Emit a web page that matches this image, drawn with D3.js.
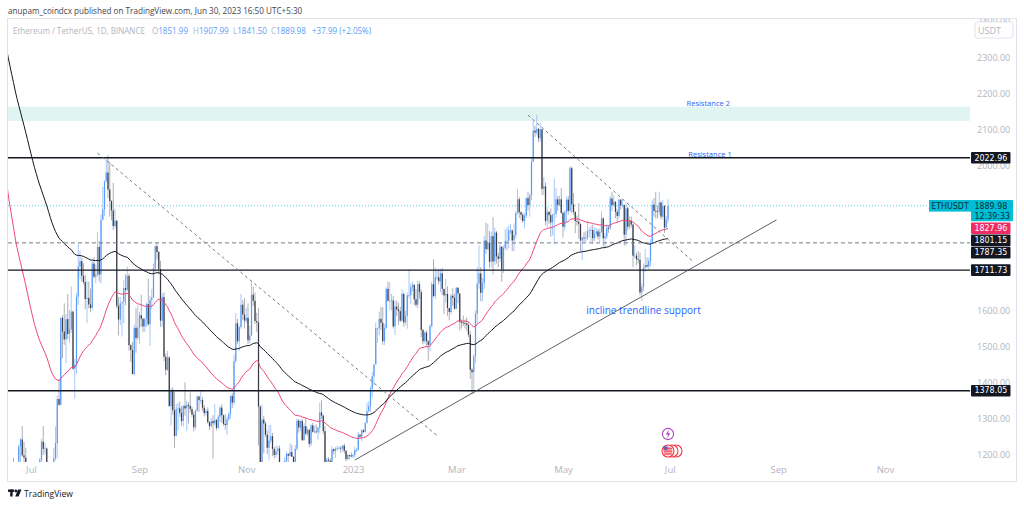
<!DOCTYPE html>
<html>
<head>
<meta charset="utf-8">
<script src="https://cdn.jsdelivr.net/npm/d3@7"></script>
<style>
  body { margin: 0; background: #fff; }
  svg { display: block; font-family: "Open Sans", "DejaVu Sans", sans-serif; }
</style>
</head>
<body>
<svg id="chart" width="1024" height="506"></svg>
<script>
// ETHUSDT daily candles [open, high, low, close], one array per month
const firstDay = "2022-06-17";
const jun22 = [
  [1068,1110,1038,1086],[1086,1089,881,995],[995,1151,962,1128],[1128,1161,1072,1128],[1128,1193,1102,1124],
  [1124,1135,1042,1052],[1052,1150,1048,1144],[1144,1230,1125,1224],[1224,1247,1180,1243],[1243,1280,1195,1199],
  [1199,1236,1181,1193],[1193,1220,1138,1144],[1144,1146,1071,1098],[1098,1104,998,1067]
];
const jul22 = [
  [1067,1101,1033,1059],[1059,1076,1034,1067],[1067,1080,1038,1074],[1074,1152,1051,1150],[1150,1163,1077,1134],
  [1134,1192,1116,1187],[1187,1245,1172,1237],[1237,1280,1201,1217],[1217,1234,1201,1218],[1218,1221,1158,1168],
  [1168,1168,1086,1097],[1097,1102,1036,1038],[1038,1113,1006,1113],[1113,1219,1078,1191],[1191,1279,1185,1233],
  [1233,1365,1191,1355],[1355,1410,1336,1339],[1339,1580,1338,1580],[1580,1587,1468,1542],[1542,1620,1505,1520],
  [1520,1590,1454,1576],[1576,1645,1520,1535],[1535,1602,1511,1548],[1548,1667,1538,1597],[1597,1600,1435,1439],
  [1439,1467,1356,1450],[1450,1648,1425,1638],[1638,1785,1615,1722],[1722,1766,1687,1737],[1737,1746,1680,1696],
  [1696,1731,1672,1679]
];
const aug22 = [
  [1679,1698,1604,1632],[1632,1681,1565,1635],[1635,1680,1606,1617],[1617,1661,1595,1607],[1607,1740,1602,1730],
  [1730,1748,1689,1694],[1694,1727,1675,1699],[1699,1817,1694,1776],[1776,1792,1680,1700],[1700,1866,1675,1851],
  [1851,1942,1850,1880],[1880,1960,1862,1958],[1958,2020,1955,1982],[1982,2030,1912,1935],[1935,2012,1860,1903],
  [1903,1906,1850,1877],[1877,1953,1823,1834],[1834,1882,1827,1849],[1849,1849,1606,1613],[1613,1637,1531,1575],
  [1575,1638,1560,1620],[1620,1623,1528,1624],[1624,1684,1565,1662],[1662,1700,1615,1657],[1657,1722,1653,1696],
  [1696,1702,1489,1504],[1504,1507,1458,1491],[1491,1513,1424,1424],[1424,1561,1420,1552],[1552,1606,1483,1524],
  [1524,1615,1518,1553]
];
const sep22 = [
  [1553,1596,1508,1587],[1587,1644,1554,1577],[1577,1580,1540,1556],[1556,1579,1541,1577],[1577,1622,1555,1618],
  [1618,1688,1557,1562],[1562,1640,1502,1629],[1629,1660,1604,1636],[1636,1730,1635,1717],[1717,1780,1706,1778],
  [1778,1789,1741,1762],[1762,1765,1700,1715],[1715,1738,1555,1572],[1572,1648,1556,1637],[1637,1650,1460,1472],
  [1472,1481,1421,1436],[1436,1488,1433,1470],[1470,1473,1335,1335],[1335,1385,1281,1377],[1377,1387,1311,1324],
  [1324,1375,1220,1253],[1253,1341,1252,1327],[1327,1345,1268,1329],[1329,1348,1306,1317],[1317,1335,1281,1294],
  [1294,1339,1278,1336],[1336,1401,1309,1329],[1329,1350,1266,1339],[1339,1346,1287,1336],[1336,1373,1318,1327]
];
const oct22 = [
  [1327,1333,1305,1312],[1312,1320,1265,1277],[1277,1326,1271,1323],[1323,1365,1320,1362],[1362,1364,1320,1352],
  [1352,1380,1343,1352],[1352,1360,1322,1331],[1331,1338,1307,1316],[1316,1327,1309,1322],[1322,1332,1287,1291],
  [1291,1294,1269,1280],[1280,1302,1276,1294],[1294,1310,1190,1288],[1288,1341,1282,1297],[1297,1300,1268,1275],
  [1275,1312,1271,1306],[1306,1335,1291,1331],[1331,1341,1290,1310],[1310,1312,1281,1286],[1286,1313,1270,1283],
  [1283,1306,1255,1299],[1299,1318,1294,1314],[1314,1366,1301,1363],[1363,1371,1330,1345],[1345,1477,1338,1460],
  [1460,1593,1456,1565],[1565,1577,1508,1515],[1515,1558,1488,1554],[1554,1646,1550,1616],[1616,1629,1574,1589],
  [1589,1635,1550,1572]
];
const nov22 = [
  [1572,1608,1565,1580],[1580,1620,1507,1518],[1518,1558,1510,1531],[1531,1681,1530,1644],[1644,1666,1613,1627],
  [1627,1650,1563,1571],[1571,1594,1541,1567],[1567,1608,1226,1334],[1334,1337,1072,1100],[1100,1340,1097,1298],
  [1298,1308,1205,1287],[1287,1292,1250,1256],[1256,1268,1202,1220],[1220,1283,1186,1240],[1240,1283,1233,1252],
  [1252,1261,1197,1217],[1217,1222,1191,1200],[1200,1227,1193,1211],[1211,1225,1201,1218],[1218,1226,1138,1141],
  [1141,1143,1074,1107],[1107,1137,1085,1134],[1134,1194,1130,1184],[1184,1210,1179,1203],[1203,1204,1174,1198],
  [1198,1232,1197,1208],[1208,1228,1195,1195],[1195,1197,1150,1168],[1168,1228,1162,1217],[1217,1301,1212,1295]
];
const dec22 = [
  [1295,1299,1262,1276],[1276,1297,1267,1294],[1294,1300,1239,1241],[1241,1288,1240,1280],[1280,1303,1255,1259],
  [1259,1276,1252,1270],[1270,1271,1221,1231],[1231,1285,1225,1282],[1282,1289,1262,1264],[1264,1281,1262,1265],
  [1265,1285,1260,1264],[1264,1278,1242,1276],[1276,1345,1260,1318],[1318,1352,1300,1309],[1309,1312,1258,1266],
  [1266,1280,1157,1166],[1166,1192,1162,1187],[1187,1194,1177,1184],[1184,1191,1150,1166],[1166,1225,1160,1216],
  [1216,1218,1202,1211],[1211,1222,1192,1218],[1218,1225,1212,1219],[1219,1224,1215,1220],[1220,1224,1206,1218],
  [1218,1227,1210,1226],[1226,1231,1204,1212],[1212,1213,1183,1189],[1189,1204,1185,1200],[1200,1201,1188,1199],
  [1199,1208,1193,1196]
];
const jan23 = [
  [1196,1204,1192,1200],[1200,1223,1192,1214],[1214,1219,1207,1214],[1214,1264,1212,1256],[1256,1259,1245,1251],
  [1251,1272,1238,1269],[1269,1271,1261,1264],[1264,1290,1262,1289],[1289,1345,1287,1321],[1321,1349,1318,1336],
  [1336,1390,1320,1384],[1384,1429,1360,1418],[1418,1450,1393,1451],[1451,1566,1450,1551],[1551,1553,1511,1551],
  [1551,1597,1531,1577],[1577,1610,1545,1566],[1566,1609,1505,1515],[1515,1562,1505,1552],[1552,1665,1548,1660],
  [1660,1680,1625,1627],[1627,1678,1602,1627],[1627,1646,1600,1628],[1628,1640,1550,1556],[1556,1627,1532,1611],
  [1611,1628,1585,1603],[1603,1622,1560,1598],[1598,1610,1568,1572],[1572,1659,1570,1646],[1646,1650,1555,1567],
  [1567,1600,1560,1585]
];
const feb23 = [
  [1585,1650,1550,1642],[1642,1714,1634,1643],[1643,1675,1617,1665],[1665,1680,1652,1671],[1671,1674,1615,1631],
  [1631,1660,1610,1616],[1616,1683,1606,1673],[1673,1681,1633,1651],[1651,1658,1526,1546],[1546,1549,1507,1515],
  [1515,1542,1509,1539],[1539,1545,1500,1515],[1515,1517,1461,1505],[1505,1562,1488,1557],[1557,1680,1553,1673],
  [1673,1742,1637,1640],[1640,1720,1632,1692],[1692,1714,1684,1692],[1692,1715,1672,1681],[1681,1714,1650,1703],
  [1703,1718,1643,1660],[1660,1660,1590,1642],[1642,1688,1621,1646],[1646,1667,1585,1607],[1607,1607,1573,1596],
  [1596,1646,1590,1641],[1641,1662,1613,1635],[1635,1646,1602,1605]
];
const mar23 = [
  [1605,1665,1604,1663],[1663,1665,1620,1647],[1647,1648,1545,1568],[1568,1575,1550,1567],[1567,1586,1557,1565],
  [1565,1575,1550,1564],[1564,1581,1543,1560],[1560,1568,1526,1533],[1533,1543,1411,1436],[1436,1441,1368,1429],
  [1429,1480,1370,1473],[1473,1600,1456,1591],[1591,1720,1560,1675],[1675,1780,1660,1703],[1703,1720,1625,1649],
  [1649,1690,1625,1676],[1676,1807,1660,1794],[1794,1843,1757,1770],[1770,1840,1767,1788],[1788,1820,1718,1735],
  [1735,1818,1720,1806],[1806,1858,1700,1736],[1736,1830,1726,1816],[1816,1820,1730,1750],[1750,1760,1720,1743],
  [1743,1790,1735,1777],[1777,1777,1680,1714],[1714,1780,1704,1773],[1773,1826,1768,1792],[1792,1830,1765,1793],
  [1793,1835,1772,1822]
];
const apr23 = [
  [1822,1840,1812,1822],[1822,1824,1765,1794],[1794,1841,1764,1809],[1809,1875,1800,1870],[1870,1937,1866,1908],
  [1908,1914,1856,1872],[1872,1875,1850,1865],[1865,1871,1842,1848],[1848,1870,1827,1862],[1862,1914,1856,1911],
  [1911,1929,1876,1892],[1892,1924,1860,1919],[1919,2021,1905,2012],[2012,2125,2012,2098],[2098,2112,2081,2093],
  [2093,2142,2086,2103],[2103,2105,2066,2077],[2077,2120,2068,2102],[2102,2102,1920,1937],[1937,1969,1920,1944],
  [1944,1955,1837,1848],[1848,1887,1830,1873],[1873,1875,1840,1864],[1864,1883,1804,1844],[1844,1867,1808,1866],
  [1866,1965,1784,1868],[1868,1939,1857,1908],[1908,1917,1876,1892],[1892,1918,1888,1908],[1908,1939,1868,1870]
];
const may23 = [
  [1870,1875,1802,1832],[1832,1878,1822,1872],[1872,1915,1845,1907],[1907,1917,1866,1876],[1876,2000,1873,1994],
  [1994,1998,1870,1894],[1894,1925,1865,1873],[1873,1875,1814,1848],[1848,1863,1835,1846],[1846,1897,1799,1840],
  [1840,1840,1764,1794],[1794,1804,1740,1802],[1802,1817,1790,1800],[1800,1820,1790,1801],[1801,1849,1795,1820],
  [1820,1830,1803,1822],[1822,1835,1790,1823],[1823,1838,1785,1800],[1800,1829,1793,1812],[1812,1830,1804,1819],
  [1819,1826,1797,1805],[1805,1827,1789,1818],[1818,1875,1815,1855],[1855,1858,1777,1800],[1800,1815,1772,1805],
  [1805,1839,1798,1829],[1829,1836,1815,1828],[1828,1917,1823,1910],[1910,1928,1876,1892],[1892,1919,1887,1901],
  [1901,1903,1855,1873]
];
const jun23 = [
  [1873,1880,1845,1862],[1862,1910,1855,1907],[1907,1908,1880,1891],[1891,1908,1885,1892],[1892,1893,1780,1810],
  [1810,1895,1780,1883],[1883,1888,1822,1832],[1832,1860,1825,1848],[1848,1860,1830,1838],[1838,1840,1720,1752],
  [1752,1780,1745,1752],[1752,1760,1725,1742],[1742,1765,1730,1740],[1740,1760,1642,1650],[1650,1675,1626,1665],
  [1665,1730,1654,1719],[1719,1770,1706,1726],[1726,1747,1718,1722],[1722,1746,1713,1737],[1737,1798,1722,1788],
  [1788,1905,1785,1893],[1893,1911,1860,1876],[1876,1928,1855,1875],[1875,1891,1855,1874],[1874,1929,1864,1899],
  [1899,1902,1852,1860],[1860,1907,1855,1890],[1890,1891,1815,1830],[1830,1862,1825,1851.99],[1851.99,1907.99,1841.50,1889.98]
];

// moving averages: EMA 50 (red) and EMA 100 (black), start values read at the left edge
const emaLengths = [50, 100];
const emaStart = [1958, 2326];
const emaLast = ["1827.96", "1801.15"];

// drawn levels and zones
const levels = [2022.96, 1711.73, 1378.05];
const dashedLevel = 1787.35;
const resistanceZone = [2125, 2164];
const trendLines = [
  { from: ["2022-08-08", 2036], to: ["2023-02-19", 1250], dashed: true },
  { from: ["2023-04-11", 2141], to: ["2023-07-14", 1737], dashed: true },
  { from: ["2023-01-02", 1186], to: ["2023-08-31", 1851], dashed: false }
];
const notes = [
  { text: "Resistance 2", date: "2023-07-23", price: 2174, size: 7.5 },
  { text: "Resistance 1", date: "2023-07-24", price: 2033, size: 7.5 },
  { text: "incline trendline support", date: "2023-06-16", price: 1601, size: 10 }
];
const priceTicks = d3.range(1200, 2401, 100);
const lastClose = 1889.98;
const countdown = "12:39:33";

// ---------------------------------------------------------------
const parseDay = d3.utcParse("%Y-%m-%d");
const start = parseDay(firstDay);
const candles = [jun22, jul22, aug22, sep22, oct22, nov22, dec22, jan23, feb23, mar23, apr23, may23, jun23]
  .flat()
  .map((d, i) => ({ date: d3.utcDay.offset(start, i), o: d[0], h: d[1], l: d[2], c: d[3] }));

// exponential moving averages over the closes
const emas = emaLengths.map((n, j) => {
  const k = 2 / (n + 1);
  let v = emaStart[j];
  return candles.map((d, i) => {
    if (i > 0) v = v + k * (d.c - v);
    return { date: d.date, v: v };
  });
});

const svg = d3.select("#chart");
const plot = { left: 8, right: 970, top: 19, bottom: 462 };

const x = d3.scaleUtc()
  .domain([parseDay("2022-07-01"), parseDay("2023-11-01")])
  .range([31, 885]);
const y = d3.scaleLinear().domain([1200, 2300]).range([455, 57.7]);

// shrink or grow a text's font so its width matches the reference
function fitWidth(sel, width) {
  const size = +sel.attr("font-size");
  const w = sel.node().getComputedTextLength();
  if (w > 0) sel.attr("font-size", (size * width / w).toFixed(2));
  return sel;
}

// header
fitWidth(svg.append("text").attr("x", 8).attr("y", 13.5)
  .attr("font-size", 10).attr("fill", "#434651")
  .text("anupam_coindcx published on TradingView.com, Jun 30, 2023 16:50 UTC+5:30"), 295);

// chart frame
svg.append("rect").attr("x", 7.5).attr("y", 18.5).attr("width", 1009).attr("height", 463)
  .attr("fill", "none").attr("stroke", "#e0e3eb");

svg.append("defs").append("clipPath").attr("id", "plotClip")
  .append("rect").attr("x", plot.left).attr("y", plot.top)
  .attr("width", plot.right - plot.left).attr("height", plot.bottom - plot.top);

const g = svg.append("g").attr("clip-path", "url(#plotClip)");

// resistance zone
g.append("rect")
  .attr("x", plot.left).attr("width", plot.right - plot.left)
  .attr("y", y(resistanceZone[1])).attr("height", y(resistanceZone[0]) - y(resistanceZone[1]))
  .attr("fill", "#e0f4f2");

// last price dotted line
g.append("line")
  .attr("x1", plot.left).attr("x2", 930)
  .attr("y1", y(lastClose)).attr("y2", y(lastClose))
  .attr("stroke", "#4dd0e1").attr("stroke-width", 1).attr("stroke-dasharray", "1,2");

// candles
const bw = 1.25;
const up = "#5b9cf6", down = "#3a3d47";
g.append("g").selectAll("line").data(candles).join("line")
  .attr("x1", d => x(d.date)).attr("x2", d => x(d.date))
  .attr("y1", d => y(d.h)).attr("y2", d => y(d.l))
  .attr("stroke", d => d.c >= d.o ? "#9fc2fa" : "#a3a6af")
  .attr("stroke-width", 0.9);
g.append("g").selectAll("rect").data(candles).join("rect")
  .attr("x", d => x(d.date) - bw / 2).attr("width", bw)
  .attr("y", d => y(Math.max(d.o, d.c)))
  .attr("height", d => Math.max(0.8, Math.abs(y(d.o) - y(d.c))))
  .attr("fill", d => d.c >= d.o ? up : down);

// EMAs
const emaColors = ["#f0477a", "#131722"];
const emaLine = d3.line().x(d => x(d.date)).y(d => y(d.v));
emas.forEach((s, j) => {
  g.append("path").datum(s).attr("d", emaLine)
    .attr("fill", "none").attr("stroke", emaColors[j]).attr("stroke-width", 1);
});

// horizontal levels
g.selectAll(".lvl").data(levels).join("line").attr("class", "lvl")
  .attr("x1", plot.left).attr("x2", plot.right)
  .attr("y1", d => y(d)).attr("y2", d => y(d))
  .attr("stroke", "#131722").attr("stroke-width", 1.4);
g.append("line")
  .attr("x1", plot.left).attr("x2", plot.right)
  .attr("y1", y(dashedLevel)).attr("y2", y(dashedLevel))
  .attr("stroke", "#787b86").attr("stroke-width", 1).attr("stroke-dasharray", "4,3");

// trend lines
g.selectAll(".trend").data(trendLines).join("line").attr("class", "trend")
  .attr("x1", d => x(parseDay(d.from[0]))).attr("y1", d => y(d.from[1]))
  .attr("x2", d => x(parseDay(d.to[0]))).attr("y2", d => y(d.to[1]))
  .attr("stroke", d => d.dashed ? "#787b86" : "#4a4d57")
  .attr("stroke-width", d => d.dashed ? 1 : 0.9)
  .attr("stroke-dasharray", d => d.dashed ? "3,3" : null);

// text notes
g.selectAll(".note").data(notes).join("text").attr("class", "note")
  .attr("x", d => x(parseDay(d.date))).attr("y", d => y(d.price))
  .attr("text-anchor", "middle").attr("dominant-baseline", "central")
  .attr("font-size", d => d.size).attr("fill", "#2962ff")
  .text(d => d.text);

// event markers above the time axis
const lastDate = candles[candles.length - 1].date;
const ev = svg.append("g").attr("transform", `translate(${x(lastDate)},0)`);
ev.append("circle").attr("cx", 0).attr("cy", 434).attr("r", 5.6)
  .attr("fill", "#fff").attr("stroke", "#ab47bc").attr("stroke-width", 1.1);
ev.append("path").attr("d", "M1,429.5 L-2.2,434.6 L0,434.6 L-1,438.5 L2.3,433.2 L0.1,433.2 Z")
  .attr("fill", "#ab47bc");
[8, 4, 0].forEach(dx => {
  ev.append("circle").attr("cx", dx).attr("cy", 451).attr("r", 6)
    .attr("fill", "#fff").attr("stroke", "#f23645").attr("stroke-width", 1.1);
});
ev.append("circle").attr("cx", 0).attr("cy", 451).attr("r", 4.6).attr("fill", "#f7a1a8");
ev.append("rect").attr("x", -4.6).attr("y", 446.4).attr("width", 4.2).attr("height", 3.6).attr("fill", "#3f6fd8");
[447.8, 450.6, 453.4].forEach(yy => {
  ev.append("line").attr("x1", -4).attr("x2", 4.2).attr("y1", yy + 0.6).attr("y2", yy + 0.6)
    .attr("stroke", "#f23645").attr("stroke-width", 0.8);
});

// time axis
const xAxis = d3.axisBottom(x)
  .tickValues(d3.utcMonth.every(2).range(parseDay("2022-07-01"), parseDay("2023-12-01")))
  .tickFormat(d => d.getUTCMonth() === 0 ? d3.utcFormat("%Y")(d) : d3.utcFormat("%b")(d))
  .tickSize(0).tickPadding(0);
const xg = svg.append("g").attr("transform", "translate(0,466)").call(xAxis);
xg.select(".domain").remove();
xg.selectAll("text").attr("fill", "#b2b5be").attr("font-size", 9.5)
  .attr("font-family", "'Open Sans', sans-serif");

// price axis
svg.append("defs").append("clipPath").attr("id", "axisClip")
  .append("rect").attr("x", 970).attr("y", 19).attr("width", 46).attr("height", 443);
const yAxis = d3.axisRight(y).tickValues(priceTicks).tickFormat(d3.format(".2f"))
  .tickSize(0).tickPadding(7);
const yg = svg.append("g").attr("clip-path", "url(#axisClip)")
  .append("g").attr("transform", "translate(970,0)").call(yAxis);
yg.select(".domain").remove();
yg.selectAll("text").attr("fill", "#b2b5be").attr("font-size", 9)
  .attr("font-family", "'Open Sans', sans-serif");

// currency box
svg.append("rect").attr("x", 975).attr("y", 22).attr("width", 38).attr("height", 16).attr("rx", 2)
  .attr("fill", "#fff").attr("stroke", "#e0e3eb");
svg.append("text").attr("x", 978).attr("y", 33.5).attr("font-size", 9).attr("fill", "#b2b5be").text("USDT");

// price labels on the axis
const boxH = 11.6;
const axisLabels = [
  { v: levels[0], text: [levels[0].toFixed(2)], bg: "#131722", fg: "#fff" },
  { v: lastClose, text: [lastClose.toFixed(2), countdown], bg: "#00bcd4", fg: "#0b2f36" },
  { v: +emaLast[0], text: [emaLast[0]], bg: "#ec2d66", fg: "#fff" },
  { v: +emaLast[1], text: [emaLast[1]], bg: "#131722", fg: "#fff" },
  { v: dashedLevel, text: [dashedLevel.toFixed(2)], bg: "#131722", fg: "#fff" },
  { v: levels[1], text: [levels[1].toFixed(2)], bg: "#131722", fg: "#fff" },
  { v: levels[2], text: [levels[2].toFixed(2)], bg: "#131722", fg: "#fff" }
];
let prevBottom = -Infinity;
axisLabels.sort((a, b) => b.v - a.v).forEach(lb => {
  const two = lb.text.length > 1;
  const h = two ? 21.2 : boxH;
  const top = Math.max(y(lb.v) - boxH / 2, prevBottom + 0.6);
  prevBottom = top + h;
  lb.top = top;
  lb.bottom = top + h;
  svg.append("rect").attr("x", 971).attr("y", top).attr("width", two ? 42 : 39.5).attr("height", h)
    .attr("rx", 1).attr("fill", lb.bg);
  const t = svg.append("text").attr("y", top + 8.6)
    .attr("font-size", 8.8).attr("fill", lb.fg)
    .attr("font-family", "'DejaVu Sans Condensed', 'DejaVu Sans', sans-serif");
  lb.text.forEach((s, i) => {
    t.append("tspan").attr("x", 974.5).attr("dy", i === 0 ? 0 : 10).text(s);
  });
});

// hide tick labels whose centre sits under a price label
yg.selectAll(".tick").filter(t => axisLabels.some(lb => y(t) >= lb.top && y(t) <= lb.bottom)).remove();

// symbol tag next to last price
const lastLabel = axisLabels.find(d => d.v === lastClose);
svg.append("rect").attr("x", 929).attr("y", lastLabel.top).attr("width", 42).attr("height", boxH)
  .attr("fill", "#00bcd4");
svg.append("text").attr("x", 950).attr("y", lastLabel.top + 8.6).attr("text-anchor", "middle")
  .attr("font-size", 8.8).attr("fill", "#0b2f36")
  .attr("font-family", "'DejaVu Sans Condensed', 'DejaVu Sans', sans-serif").text("ETHUSDT");

// legend line: one font size for all parts, fitted on the symbol description
const lastC = candles[candles.length - 1];
const prevC = candles[candles.length - 2];
const chg = lastC.c - prevC.c;
const gray = "#b2b5be", blue = "#5b9cf6";
const legend = [
  { x: 13, parts: [["Ethereum / TetherUS, 1D, BINANCE", gray]] },
  { x: 152, parts: [["O", gray], [lastC.o.toFixed(2), blue]] },
  { x: 193, parts: [["H", gray], [lastC.h.toFixed(2), blue]] },
  { x: 233, parts: [["L", gray], [lastC.l.toFixed(2), blue]] },
  { x: 271, parts: [["C", gray], [lastC.c.toFixed(2), blue]] },
  { x: 312, parts: [[`+${chg.toFixed(2)} (+${(chg / prevC.c * 100).toFixed(2)}%)`, blue]] }
];
let legendSize = 10;
legend.forEach((d, i) => {
  const t = svg.append("text").attr("x", d.x).attr("y", 33.5).attr("font-size", legendSize);
  d.parts.forEach(p => t.append("tspan").attr("fill", p[1]).text(p[0]));
  if (i === 0) legendSize = +fitWidth(t, 132).attr("font-size");
});

// footer logo
const logo = svg.append("g").attr("fill", "#131722");
logo.append("rect").attr("x", 8).attr("y", 489.5).attr("width", 6).attr("height", 2.4);
logo.append("rect").attr("x", 10.2).attr("y", 489.5).attr("width", 2.4).attr("height", 7);
logo.append("circle").attr("cx", 15.8).attr("cy", 491).attr("r", 1.4);
logo.append("path").attr("d", "M18,489.5 L21.5,489.5 L18.6,496.5 L15.2,496.5 Z");
fitWidth(svg.append("text").attr("x", 24).attr("y", 496.5).attr("font-size", 10).attr("fill", "#131722")
  .text("TradingView"), 49);
</script>
</body>
</html>
